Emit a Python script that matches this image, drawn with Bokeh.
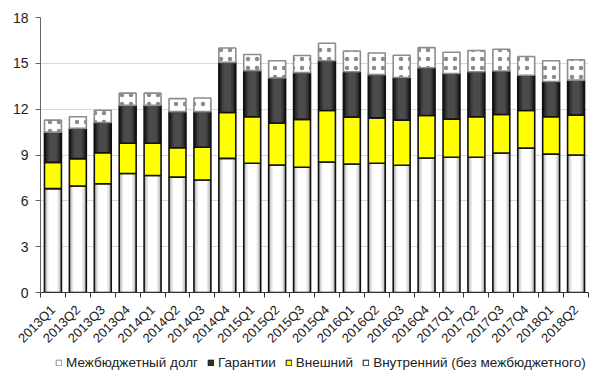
import math
from bokeh.plotting import figure
from bokeh.layouts import column
from bokeh.models import Range1d, FixedTicker, Legend, LegendItem, ColumnDataSource
from bokeh.embed import file_html
from bokeh.resources import INLINE

quarters = ["2013Q1", "2013Q2", "2013Q3", "2013Q4", "2014Q1", "2014Q2", "2014Q3", "2014Q4",
            "2015Q1", "2015Q2", "2015Q3", "2015Q4", "2016Q1", "2016Q2", "2016Q3", "2016Q4",
            "2017Q1", "2017Q2", "2017Q3", "2017Q4", "2018Q1", "2018Q2"]
domestic = [6.80, 6.97, 7.12, 7.79, 7.66, 7.55, 7.36, 8.78, 8.46, 8.35, 8.20,
            8.54, 8.41, 8.46, 8.33, 8.80, 8.85, 8.85, 9.13, 9.45, 9.06, 9.00]
external = [1.72, 1.79, 2.03, 1.98, 2.11, 1.92, 2.15, 3.00, 3.04, 2.74, 3.13,
            3.37, 3.07, 2.97, 2.95, 2.79, 2.50, 2.65, 2.52, 2.46, 2.44, 2.61]
guarantees = [1.98, 1.98, 1.98, 2.48, 2.48, 2.37, 2.33, 3.28, 3.02, 2.96, 3.06,
              3.26, 2.97, 2.83, 2.79, 3.12, 2.98, 2.95, 2.85, 2.31, 2.31, 2.29]
interbudget = [0.78, 0.76, 0.80, 0.80, 0.80, 0.85, 0.89, 0.94, 1.06, 1.12, 1.12,
               1.14, 1.36, 1.42, 1.46, 1.32, 1.40, 1.39, 1.42, 1.23, 1.36, 1.33]
series_names = ["Межбюджетный долг", "Гарантии", "Внешний", "Внутренний (без межбюджетного)"]
y_ticks = [0, 3, 6, 9, 12, 15, 18]

n = len(quarters)
xs = list(range(n))
y1 = [d for d in domestic]
y2 = [a + b for a, b in zip(y1, external)]
y3 = [a + b for a, b in zip(y2, guarantees)]
y4 = [a + b for a, b in zip(y3, interbudget)]
src = ColumnDataSource(dict(x=xs, y0=[0] * n, y1=y1, y2=y2, y3=y3, y4=y4))

FONT = "Liberation Sans"
W = 0.68

p = figure(width=590, height=353, x_range=Range1d(-0.5, n - 0.5), y_range=Range1d(0, 18),
           output_backend="svg", toolbar_location=None,
           min_border_left=40, min_border_right=2, min_border_top=17, min_border_bottom=58)
p.outline_line_color = None
p.xgrid.grid_line_color = None
p.ygrid.grid_line_color = "#d9d9d9"
p.ygrid.grid_line_width = 1

# domestic (white with gradient look)
for w, c in [(W, "#a8a8a8"), (0.58, "#cfcfcf"), (0.48, "#e8e8e8"), (0.36, "#ffffff")]:
    p.vbar(x="x", bottom="y0", top="y1", width=w, source=src, fill_color=c, line_color=None)
p.vbar(x="x", bottom="y0", top="y1", width=W, source=src, fill_color=None,
       line_color="#111111", line_width=1.6)

# external (yellow)
p.vbar(x="x", bottom="y1", top="y2", width=W, source=src, fill_color="#ffff00",
       line_color="#111111", line_width=1.6)

# guarantees (dark with gradient look)
p.vbar(x="x", bottom="y2", top="y3", width=W, source=src, fill_color="#161616", line_color=None)
for w, c in [(0.56, "#2c2c2c"), (0.44, "#3e3e3e"), (0.30, "#4b4b4b")]:
    p.vbar(x="x", bottom="y2", top="y3", width=w, source=src, fill_color=c, line_color=None)
p.vbar(x="x", bottom="y2", top="y3", width=W, source=src, fill_color=None,
       line_color="#111111", line_width=1.6)

# interbudget (white dotted)
p.vbar(x="x", bottom="y3", top="y4", width=W, source=src, fill_color="#ffffff",
       line_color="#8c8c8c", line_width=1.6, hatch_pattern="dot",
       hatch_color="#8c8c8c", hatch_scale=9, hatch_weight=1)

# axes
p.yaxis.ticker = FixedTicker(ticks=y_ticks)
p.yaxis.axis_line_color = "#666666"
p.yaxis.major_tick_line_color = "#666666"
p.yaxis.major_tick_out = 5
p.yaxis.major_tick_in = 0
p.yaxis.minor_tick_line_color = None
p.yaxis.major_label_text_font = FONT
p.yaxis.major_label_text_font_size = "14px"
p.yaxis.major_label_text_color = "#222222"
p.yaxis.major_label_standoff = 7

p.xaxis.ticker = FixedTicker(ticks=xs, minor_ticks=[i - 0.5 for i in range(n + 1)])
p.xaxis.major_label_overrides = {i: q for i, q in zip(xs, quarters)}
p.xaxis.axis_line_color = "#333333"
p.xaxis.major_tick_line_color = None
p.xaxis.major_tick_out = 0
p.xaxis.major_tick_in = 0
p.xaxis.minor_tick_line_color = "#333333"
p.xaxis.minor_tick_out = 5
p.xaxis.minor_tick_in = 0
p.xaxis.major_label_orientation = math.pi / 4
p.xaxis.major_label_text_font = FONT
p.xaxis.major_label_text_font_size = "13px"
p.xaxis.major_label_text_color = "#222222"
p.xaxis.major_label_standoff = 10

# legend strip (separate figure, renderers hidden, used only as legend keys)
lg = figure(width=590, height=18, x_range=p.x_range, y_range=p.y_range,
            output_backend="svg", toolbar_location=None, x_axis_type=None, y_axis_type=None,
            min_border=0)
lg.outline_line_color = None
lg.grid.visible = False
k_int = lg.vbar(x="x", bottom="y3", top="y4", width=W, source=src, fill_color="#ffffff",
                line_color="#8c8c8c", line_width=1, visible=False)
k_gua = lg.vbar(x="x", bottom="y2", top="y3", width=W, source=src, fill_color="#333333",
                line_color="#111111", line_width=1, visible=False)
k_ext = lg.vbar(x="x", bottom="y1", top="y2", width=W, source=src, fill_color="#ffff00",
                line_color="#111111", line_width=1, visible=False)
k_dom = lg.vbar(x="x", bottom="y0", top="y1", width=W, source=src, fill_color="#ffffff",
                line_color="#111111", line_width=1, visible=False)
legend = Legend(items=[LegendItem(label=lab, renderers=[r])
                       for lab, r in zip(series_names, [k_int, k_gua, k_ext, k_dom])],
                orientation="horizontal", location=(15, 1),
                label_text_font=FONT, label_text_font_size="13.5px", label_text_color="#222222",
                glyph_width=7, glyph_height=7, label_standoff=4, spacing=9, label_height=16,
                padding=0, margin=0, border_line_color=None, background_fill_alpha=0)
lg.add_layout(legend, "center")

layout = column(p, lg, spacing=0)
open("out.html", "w").write(file_html(layout, INLINE))
